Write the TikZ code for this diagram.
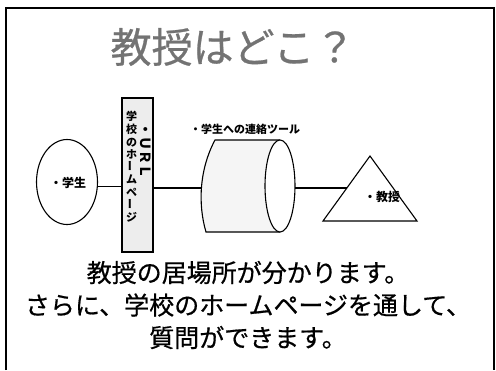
\documentclass[tikz,border=0pt]{standalone}
\usepackage{fontspec}
\setmainfont{Noto Sans CJK JP}
\newfontfamily\midcjk[FakeBold=0.6]{Noto Sans CJK JP}
\usetikzlibrary{shapes.geometric}
\tikzset{
  shapeline/.style={draw=black, line width=1.1pt},
  conn/.style={draw=black, line width=1.1pt},
  lbl/.style={font=\bfseries\fontsize{12}{12}\selectfont, inner sep=0pt},
}
\begin{document}
\begin{tikzpicture}[x=1pt,y=-1pt]
\useasboundingbox (0,0) rectangle (496,370);
% frame
\draw[line width=1.2pt] (6,370) -- (6,8) -- (494,8) -- (494,370);
% title
\node[text=black!55, font=\midcjk\fontsize{41}{41}\selectfont, inner sep=0pt] (title) at (233,47) {教授はどこ？};
% student ellipse
\node[shapeline, ellipse, fill=white, minimum width=61pt, minimum height=85pt, inner sep=0pt] (stu) at (67,182) {};
\node[lbl] (stulbl) at (68,183) {・学生};
% homepage box
\node[shapeline, fill=black!7, minimum width=31pt, minimum height=154pt, inner sep=0pt] (hp) at (137.5,175) {};
\node[font=\bfseries\fontsize{11}{12.6}\selectfont, align=center, inner sep=0pt] (hptxt) at (131.5,167)
  {学\\校\\の\\ホ\\\rotatebox{90}{ー}\\ム\\ペ\\\rotatebox{90}{ー}\\ジ};
\node[font=\bfseries\fontsize{14}{14}\selectfont, rotate=-90, inner sep=0pt] (url) at (146,150) {・ＵＲＬ};
% cylinder
\coordinate (cylL) at (202,188);
\coordinate (cylR) at (295,188);
\fill[black!4] (215,140) -- (280,140) -- (280,232) -- (206,232) .. controls (198,200) and (198,170) .. (215,140) -- cycle;
\draw[shapeline] (280,140) -- (215,140) .. controls (199,170) and (198,205) .. (206,232) -- (280,232);
\draw[shapeline, fill=white] (280,186) ellipse [x radius=15, y radius=46];
\node[font=\bfseries\fontsize{11}{11}\selectfont, inner sep=0pt] (cyllbl) at (245,129) {・学生への連絡ツール};
% professor triangle
\coordinate (tA) at (370,156);
\coordinate (tB) at (323,221);
\coordinate (tC) at (417,221);
\draw[shapeline, fill=white] (tA) -- (tB) -- (tC) -- cycle;
\coordinate (triL) at (347,188);
\node[lbl] (proflbl) at (382,197) {・教授};
% connectors
\draw[conn] (stu.-8) -- (hp.west |- stu.-8);
\draw[conn] (hp.east |- cylL) -- (cylL);
\draw[conn] (cylR) -- (triL);
% bottom text
\node[font=\midcjk\fontsize{25}{32.5}\selectfont, align=center, inner sep=0pt] (body) at (248,305)
  {教授の居場所が分かります。\\さらに、学校のホームページを通して、\\質問ができます。};
\end{tikzpicture}
\end{document}
